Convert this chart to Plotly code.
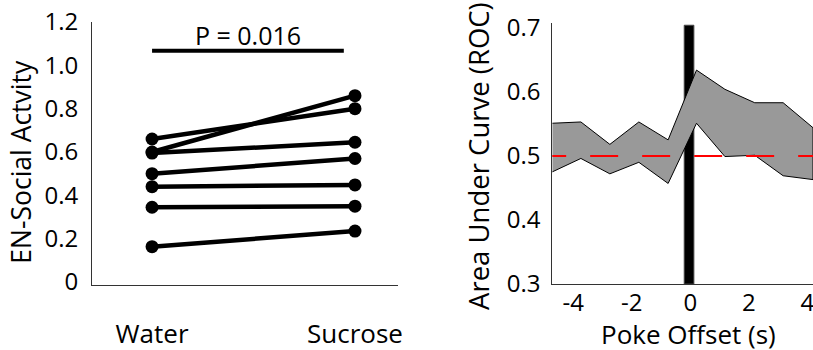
import plotly.graph_objects as go

W, H = 813, 350
FONT = "Open Sans"

# ---------------- data: left panel ----------------
groups = ["Water", "Sucrose"]
group_pos = [1, 2]
water = [0.66, 0.60, 0.595, 0.50, 0.44, 0.345, 0.163]
sucrose = [0.80, 0.86, 0.645, 0.57, 0.448, 0.35, 0.235]
p_label = "P = 0.016"
p_bar_x = [1.0, 1.945]
p_bar_y = 1.067
left_yticks = [0, 0.2, 0.4, 0.6, 0.8, 1.0, 1.2]
left_yticktext = ["0", "0.2", "0.4", "0.6", "0.8", "1.0", "1.2"]

# ---------------- data: right panel ----------------
time_s = [-4.72, -3.74, -2.75, -1.76, -0.76, 0.21, 1.18, 2.20, 3.17, 4.19]
auc_upper = [0.551, 0.553, 0.518, 0.553, 0.525, 0.634, 0.604, 0.583, 0.583, 0.544]
auc_lower = [0.475, 0.496, 0.472, 0.490, 0.457, 0.551, 0.499, 0.501, 0.469, 0.463]
chance_level = 0.5
chance_x = [-5.2, 4.5]
event_x = [-0.21, 0.12]
event_y = [0.3, 0.704]
right_xticks = [-4, -2, 0, 2, 4]
right_xticktext = ["-4", "-2", "0", "2", "4"]
right_yticks = [0.3, 0.4, 0.5, 0.6, 0.7]

fig = go.Figure()

# left panel: paired lines
for w, s in zip(water, sucrose):
    fig.add_trace(go.Scatter(
        x=group_pos, y=[w, s], mode="lines+markers",
        line=dict(color="black", width=4.5),
        marker=dict(color="black", size=13),
        showlegend=False, hoverinfo="skip", xaxis="x", yaxis="y"))

# significance bar
fig.add_trace(go.Scatter(
    x=p_bar_x, y=[p_bar_y, p_bar_y], mode="lines",
    line=dict(color="black", width=4), showlegend=False,
    hoverinfo="skip", xaxis="x", yaxis="y"))

# right panel: band
band_x = time_s + time_s[::-1]
band_y = auc_upper + auc_lower[::-1]
fig.add_trace(go.Scatter(
    x=band_x, y=band_y, mode="lines", fill="toself",
    fillcolor="#999999", line=dict(color="black", width=1),
    showlegend=False, hoverinfo="skip", xaxis="x2", yaxis="y2"))

# chance line
fig.add_trace(go.Scatter(
    x=chance_x, y=[chance_level, chance_level], mode="lines",
    line=dict(color="#ff0000", width=2, dash="28px,24px"),
    showlegend=False, hoverinfo="skip", xaxis="x2", yaxis="y2"))

# event bar
fig.add_shape(type="rect", xref="x2", yref="y2",
              x0=event_x[0], x1=event_x[1], y0=event_y[0], y1=event_y[1],
              fillcolor="black", line=dict(color="#444444", width=1),
              layer="below")

axis_common = dict(showgrid=False, zeroline=False, showline=True,
                   linecolor="#333333", linewidth=1, ticks="",
                   automargin=False, ticklabeloverflow="allow")
tick_font = dict(family=FONT, size=24, color="black")

fig.update_layout(
    width=W, height=H,
    margin=dict(l=0, r=0, t=0, b=0),
    paper_bgcolor="white", plot_bgcolor="white",
    font=dict(family=FONT, color="black"),
    xaxis=dict(domain=[92 / W, 398 / W], range=[0.704, 2.212],
               tickvals=group_pos, ticktext=groups, anchor="y",
               ticklabelstandoff=26,
               tickfont=dict(family=FONT, size=26, color="black"),
               **axis_common),
    yaxis=dict(domain=[(H - 285) / H, (H - 22) / H], range=[-0.0138, 1.2],
               tickvals=left_yticks, ticktext=left_yticktext, anchor="x",
               ticklabelstandoff=8, tickfont=tick_font, **axis_common),
    xaxis2=dict(domain=[552.3 / W, 1.0], range=[-4.717, 4.19],
                tickvals=right_xticks, ticktext=right_xticktext, anchor="y2",
                ticklabelstandoff=-3, tickfont=tick_font, **axis_common),
    yaxis2=dict(domain=[(H - 284) / H, (H - 23) / H], range=[0.3, 0.7075],
                tickvals=right_yticks, anchor="x2",
                ticklabelstandoff=6, tickfont=tick_font, **axis_common),
    annotations=[
        dict(text=p_label, xref="x", yref="y",
             x=sum(p_bar_x) / 2, y=p_bar_y + 0.071,
             showarrow=False, xanchor="center", yanchor="middle",
             font=dict(family=FONT, size=25, color="black")),
        dict(text="EN-Social Actvity", xref="paper", yref="paper",
             x=21 / W, y=(H - 161.7) / H, textangle=-90,
             showarrow=False, xanchor="center", yanchor="middle",
             font=dict(family=FONT, size=26.5, color="black")),
        dict(text="Area Under Curve (ROC)", xref="paper", yref="paper",
             x=478 / W, y=(H - 156) / H, textangle=-90,
             showarrow=False, xanchor="center", yanchor="middle",
             font=dict(family=FONT, size=27.5, color="black")),
        dict(text="Poke Offset (s)", xref="paper", yref="paper",
             x=688.3 / W, y=(H - 334) / H,
             showarrow=False, xanchor="center", yanchor="middle",
             font=dict(family=FONT, size=26, color="black")),
    ],
)

fig.write_html("out.html",
               config={"displayModeBar": False},
               post_script="document.body.style.margin='0';"
                           "document.body.style.padding='0';"
                           "document.documentElement.style.overflow='hidden';")
